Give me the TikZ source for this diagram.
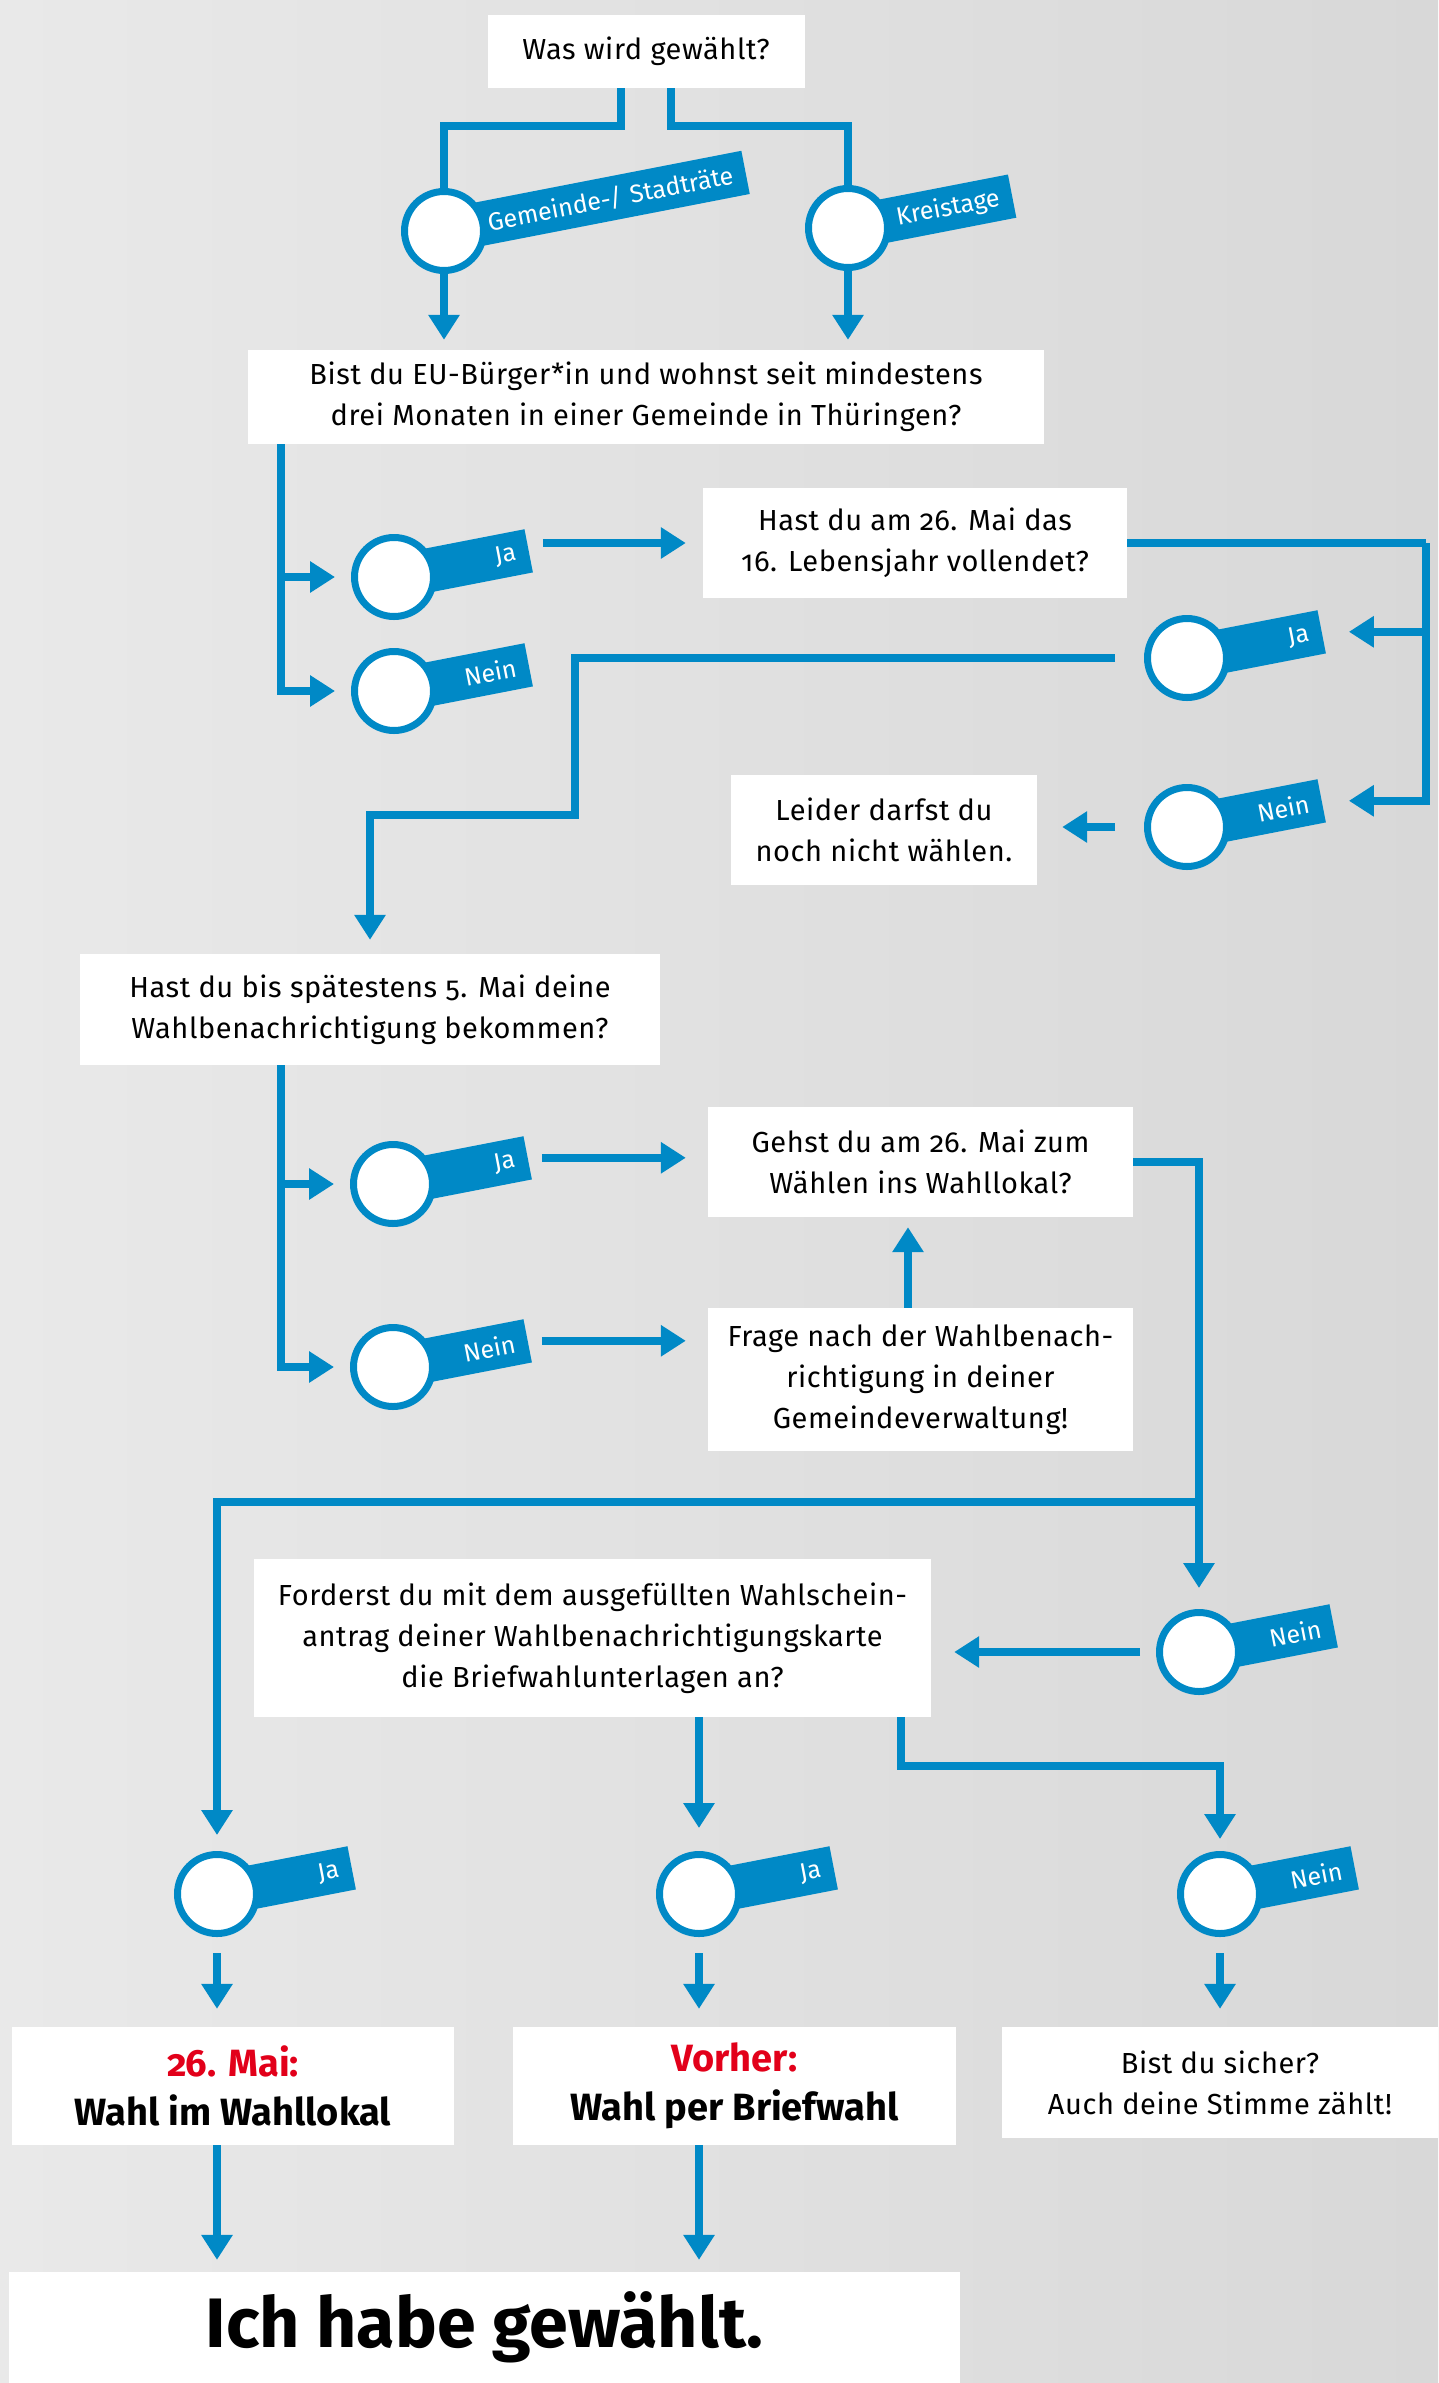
\documentclass[tikz,border=0pt]{standalone}
\usepackage{fontspec}
\setmainfont{Fira Sans}[Numbers=OldStyle]
\newfontfamily\regfont{Fira Sans}[Numbers=OldStyle, LetterSpace=2]
\usetikzlibrary{arrows.meta,calc}
\definecolor{blu}{RGB}{0,137,198}
\definecolor{rd}{RGB}{226,0,26}
\definecolor{bgl}{RGB}{233,233,233}
\definecolor{bgr}{RGB}{216,216,216}
\newcommand\mainfs{\regfont\fontsize{29pt}{41pt}\selectfont}
\newcommand\tabfs{\fontsize{25pt}{30pt}\selectfont}
\newcommand\bigfs{\fontsize{38pt}{49pt}\selectfont}
\newcommand\Knob[4]{%
  \node[tabbar, minimum width=#3pt, text width=#3pt-26pt] (#1-tab) at (#2) {\mbox{#4}};
  \node[knob] (#1) at (#2) {};
}
\tikzset{
  box/.style={fill=white, inner sep=0pt, align=center, font=\mainfs, text=black},
  knob/.style={circle, draw=blu, fill=white, line width=7pt, minimum size=79pt, inner sep=0pt, outer sep=3.5pt},
  tabbar/.style={fill=blu, text=white, font=\tabfs, align=right, minimum height=44pt, inner xsep=13pt, inner ysep=0pt, rotate=11, anchor=west},
  conn/.style={draw=blu, line width=8pt},
  arr/.style={conn, -{Triangle[length=25pt,width=30pt]}},
}
\begin{document}
\begin{tikzpicture}[x=1pt,y=-1pt]
\useasboundingbox (0,0) rectangle (1438,2383);
\shade[left color=bgl, right color=bgr] (0,0) rectangle (1438,2383);

% boxes
\node[box, minimum width=317pt, minimum height=73pt] (q1) at (646,51.5) {Was wird gewählt?};
\node[box, minimum width=796pt, minimum height=94pt] (q2) at (646,397) {Bist du EU-Bürger*in und wohnst seit mindestens\\drei Monaten in einer Gemeinde in Thüringen?};
\node[box, minimum width=424pt, minimum height=110pt] (q3) at (915,543) {Hast du am 26. Mai das\\16. Lebensjahr vollendet?};
\node[box, minimum width=306pt, minimum height=110pt] (r1) at (884,830) {Leider darfst du\\noch nicht wählen.};
\node[box, minimum width=580pt, minimum height=111pt] (q4) at (370,1009.5) {Hast du bis spätestens 5. Mai deine\\Wahlbenachrichtigung bekommen?};
\node[box, minimum width=425pt, minimum height=110pt] (q5) at (920.5,1162) {Gehst du am 26. Mai zum\\Wählen ins Wahllokal?};
\node[box, minimum width=425pt, minimum height=143pt] (r2) at (920.5,1379.5) {Frage nach der Wahlbenach-\\richtigung in deiner\\Gemeindeverwaltung!};
\node[box, minimum width=677pt, minimum height=158pt] (q6) at (592.5,1638) {Forderst du mit dem ausgefüllten Wahlschein-\\antrag deiner Wahlbenachrichtigungskarte\\die Briefwahlunterlagen an?};
\node[box, font=\bigfs\bfseries, minimum width=442pt, minimum height=118pt] (e1) at (233,2086) {\textcolor{rd}{26. Mai:}\\Wahl im Wahllokal};
\node[box, font=\bigfs\bfseries, minimum width=443pt, minimum height=118pt] (e2) at (734.5,2086) {\textcolor{rd}{Vorher:}\\Wahl per Briefwahl};
\node[box, minimum width=436pt, minimum height=111pt] (e3) at (1220,2082.5) {Bist du sicher?\\Auch deine Stimme zählt!};
\node[box, font=\fontsize{70pt}{80pt}\selectfont\bfseries, minimum width=951pt, minimum height=111pt] (fin) at (484.5,2327.5) {Ich habe gewählt.};

% knobs
\Knob{cG}{444,231}{307}{Gemeinde-/ Stadträte}
\Knob{cK}{848,228}{167}{Kreistage}
\Knob{c1j}{394,577}{137}{Ja}
\Knob{c1n}{394,691}{137}{Nein}
\Knob{c2j}{1187,658}{137}{Ja}
\Knob{c2n}{1187,827}{137}{Nein}
\Knob{c3j}{393,1184}{137}{Ja}
\Knob{c3n}{393,1367}{137}{Nein}
\Knob{c4n}{1199,1652}{137}{Nein}
\Knob{c5j}{217,1894}{137}{Ja}
\Knob{c5m}{699,1894}{137}{Ja}
\Knob{c5n}{1220,1894}{137}{Nein}

% connectors
\draw[conn] ([xshift=-25pt]q1.south) -- ++(0,38) -| (cG.north);
\draw[conn] ([xshift=25pt]q1.south) -- ++(0,38) -| (cK.north);
\draw[arr, shorten >=10pt] (cG.south) -- (cG.south |- q2.north);
\draw[arr, shorten >=10pt] (cK.south) -- (cK.south |- q2.north);

\draw[arr, shorten >=16pt] ([xshift=33.5pt]q2.south west) |- (c1n.west);
\draw[arr, shorten >=16pt] ([xshift=33.5pt]q2.south west |- c1j.west) -- (c1j.west);
\draw[arr, shorten <=14pt, shorten >=17pt] (c1j-tab.east |- q3.west) -- (q3.west);

\coordinate (k1) at (1426,543);
\draw[conn] (q3.east) -- (k1);
\draw[arr, shorten >=27pt] (k1) |- (c2n-tab.east);
\draw[arr, shorten >=27pt] (k1 |- c2j-tab.east) -- (c2j-tab.east);

\coordinate (m1) at (575,815);
\draw[arr, shorten <=29pt, shorten >=14pt] (c2j.west) -| (m1) -| (q4.north);
\draw[arr, shorten <=29pt, shorten >=25pt] (c2n.west) -- (r1.east |- c2n.west);

\draw[arr, shorten >=16pt] ([xshift=201.5pt]q4.south west) |- (c3n.west);
\draw[arr, shorten >=16pt] ([xshift=201.5pt]q4.south west |- c3j.west) -- (c3j.west);
\draw[arr, shorten <=14pt, shorten >=22pt] (c3j-tab.east) -- (c3j-tab.east -| q5.west);
\draw[arr, shorten <=14pt, shorten >=22pt] (c3n-tab.east) -- (c3n-tab.east -| r2.west);
\draw[arr, shorten >=10pt] ([xshift=-12.5pt]r2.north) -- ([xshift=-12.5pt]r2.north |- q5.south);

\coordinate (k2) at (1199,1502);
\draw[arr, shorten >=21pt] (q5.east) -| (c4n.north);
\draw[arr, shorten >=16pt] (k2) -| (c5j.north);
\draw[arr, shorten <=16pt, shorten >=23pt] (c4n.west) -- (q6.east |- c4n.west);

\draw[arr, shorten >=23pt] (q6.south -| c5m) -- (c5m.north);
\draw[arr, shorten >=12pt] ([xshift=308pt]q6.south) -- ++(0,49) -| (c5n.north);

\draw[arr, shorten <=16pt, shorten >=18pt] (c5j.south) -- (c5j.south |- e1.north);
\draw[arr, shorten <=16pt, shorten >=18pt] (c5m.south) -- (c5m.south |- e2.north);
\draw[arr, shorten <=16pt, shorten >=18pt] (c5n.south) -- (c5n.south |- e3.north);
\draw[arr, shorten >=12pt] (e1.south -| c5j) -- (c5j |- fin.north);
\draw[arr, shorten >=12pt] (e2.south -| c5m) -- (c5m |- fin.north);
\end{tikzpicture}
\end{document}
